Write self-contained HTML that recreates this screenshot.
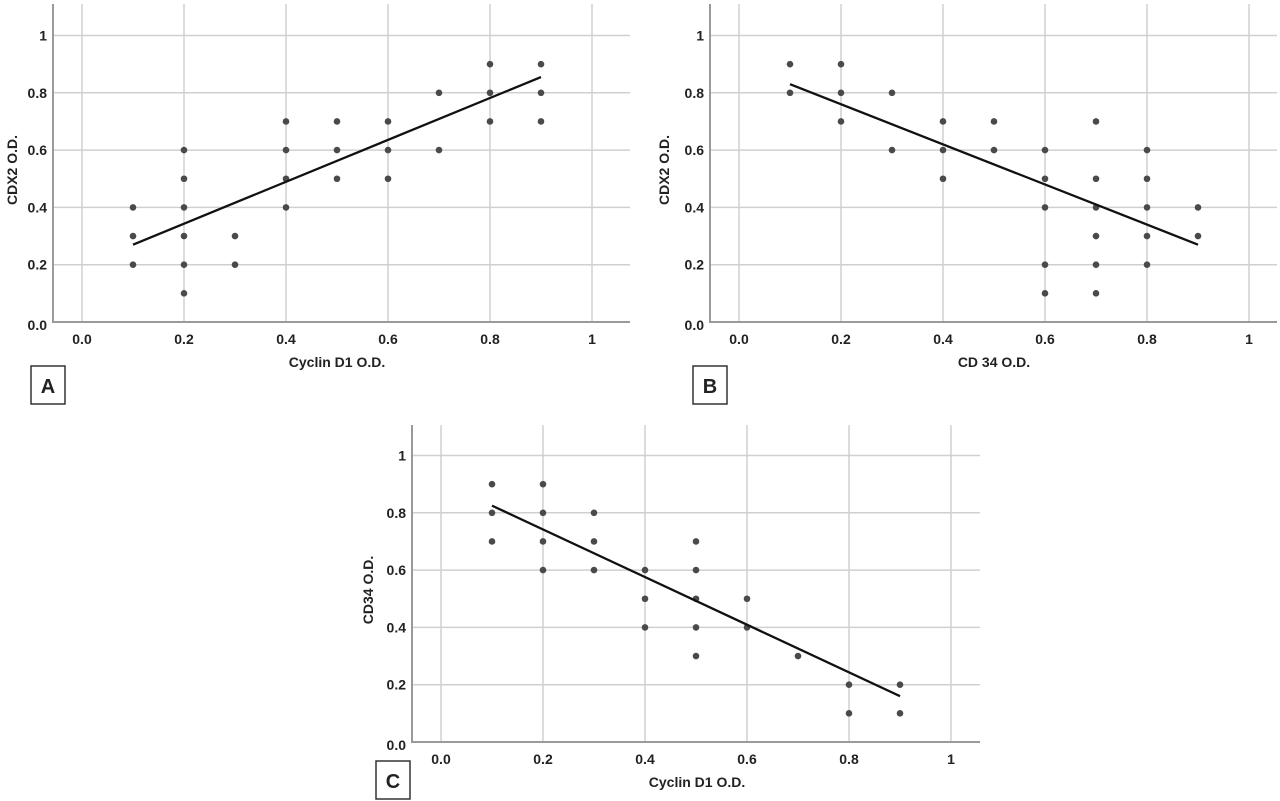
<!DOCTYPE html>
<html><head><meta charset="utf-8">
<style>
html,body{margin:0;padding:0;background:#fff;}
svg{display:block;}
text{font-family:"Liberation Sans",sans-serif;font-weight:bold;fill:#222;}
</style></head>
<body>
<svg id="fig" width="1280" height="801" viewBox="0 0 1280 801" xmlns="http://www.w3.org/2000/svg"></svg>
<script>
// Panel A data: Cyclin D1 vs CDX2
const aX = [0.1,0.1,0.1,0.2,0.2,0.2,0.2,0.2,0.2,0.3,0.3,0.4,0.4,0.4,0.4,0.5,0.5,0.5,0.6,0.6,0.6,0.7,0.7,0.8,0.8,0.8,0.9,0.9,0.9];
const aY = [0.4,0.3,0.2,0.6,0.5,0.4,0.3,0.2,0.1,0.3,0.2,0.7,0.6,0.5,0.4,0.7,0.6,0.5,0.7,0.6,0.5,0.8,0.6,0.9,0.8,0.7,0.9,0.8,0.7];
const aFitX = [0.1,0.9];
const aFitY = [0.27,0.855];
// Panel B data: CD34 vs CDX2
const bX = [0.1,0.1,0.2,0.2,0.2,0.3,0.3,0.4,0.4,0.4,0.5,0.5,0.6,0.6,0.6,0.6,0.6,0.7,0.7,0.7,0.7,0.7,0.7,0.8,0.8,0.8,0.8,0.8,0.9,0.9];
const bY = [0.9,0.8,0.9,0.8,0.7,0.8,0.6,0.7,0.6,0.5,0.7,0.6,0.6,0.5,0.4,0.2,0.1,0.7,0.5,0.4,0.3,0.2,0.1,0.6,0.5,0.4,0.3,0.2,0.4,0.3];
const bFitX = [0.1,0.9];
const bFitY = [0.83,0.27];
// Panel C data: Cyclin D1 vs CD34
const cX = [0.1,0.1,0.1,0.2,0.2,0.2,0.2,0.3,0.3,0.3,0.4,0.4,0.4,0.5,0.5,0.5,0.5,0.5,0.6,0.6,0.7,0.8,0.8,0.9,0.9];
const cY = [0.9,0.8,0.7,0.9,0.8,0.7,0.6,0.8,0.7,0.6,0.6,0.5,0.4,0.7,0.6,0.5,0.4,0.3,0.5,0.4,0.3,0.2,0.1,0.2,0.1];
const cFitX = [0.1,0.9];
const cFitY = [0.825,0.16];
const xTicks = [0,0.2,0.4,0.6,0.8,1];
const xTickLabels = ["0.0","0.2","0.4","0.6","0.8","1"];
const yTicks = [0,0.2,0.4,0.6,0.8,1];
const yTickLabels = ["0.0","0.2","0.4","0.6","0.8","1"];

const NS="http://www.w3.org/2000/svg";
const svg=document.getElementById('fig');
function mk(tag,attrs,parent){const e=document.createElementNS(NS,tag);for(const k in attrs)e.setAttribute(k,attrs[k]);(parent||svg).appendChild(e);return e;}

function panel(p){
  const g=mk('g',{});
  
  
  const sx=v=>p.x0+v*510, sy=v=>p.y0-v*286.5;
  // vertical grid
  xTicks.forEach((t,i)=>{
    const l=mk('line',{x1:sx(t),x2:sx(t),y1:p.top,y2:p.y0,stroke:'#d0d0d0','stroke-width':1.5},g);
    
    
    const tx=mk('text',{x:sx(t),y:p.y0+22,'text-anchor':'middle','font-size':14},g);
    tx.textContent=xTickLabels[i];
    
    
  });
  yTicks.forEach((t,i)=>{
    if(t>0){
      const l=mk('line',{x1:p.axisX,x2:p.right,y1:sy(t),y2:sy(t),stroke:'#d0d0d0','stroke-width':1.5},g);
      
      
    }
    const tx=mk('text',{x:p.axisX-6,y:sy(t)+5+(t===0?3:0),'text-anchor':'end','font-size':14},g);
    tx.textContent=yTickLabels[i];
    
    
  });
  // axes
  const ax=mk('polyline',{points:`${p.axisX},${p.top} ${p.axisX},${p.y0} ${p.right},${p.y0}`,fill:'none',stroke:'#9a9a9a','stroke-width':2},g);
  
  
  // points
  p.xs.forEach((v,i)=>{
    const c=mk('circle',{cx:sx(v),cy:sy(p.ys[i]),r:3.3,fill:'#4a4a4a'},g);
    
    
  });
  const fl=mk('line',{x1:sx(p.fx[0]),y1:sy(p.fy[0]),x2:sx(p.fx[1]),y2:sy(p.fy[1]),stroke:'#111','stroke-width':2.3},g);
  
  
  // titles
  const xt=mk('text',{x:p.xTitleX,y:p.y0+45,'text-anchor':'middle','font-size':14},g);
  xt.textContent=p.xTitle;
  
  
  const yt=mk('text',{x:0,y:0,'text-anchor':'middle','font-size':14,transform:`translate(${p.yTitleX},${p.yTitleY}) rotate(-90)`},g);
  yt.textContent=p.yTitle;
  
  
  // label box
  const r=mk('rect',{x:p.bx,y:p.by,width:34,height:38,fill:'#fff',stroke:'#333','stroke-width':1.5},g);
  
  
  const lt=mk('text',{x:p.bx+17,y:p.by+27,'text-anchor':'middle','font-size':20},g);
  lt.textContent=p.label;
  
  
}

panel({name:'panel-a',x0:82,y0:322,axisX:53,top:4,right:630,xs:aX,ys:aY,fx:aFitX,fy:aFitY,
  xTitle:'Cyclin D1 O.D.',xTitleX:337,yTitle:'CDX2  O.D.',yTitleX:17,yTitleY:170,bx:31,by:366,label:'A'});
panel({name:'panel-b',x0:739,y0:322,axisX:710,top:4,right:1277,xs:bX,ys:bY,fx:bFitX,fy:bFitY,
  xTitle:'CD 34  O.D.',xTitleX:994,yTitle:'CDX2  O.D.',yTitleX:669,yTitleY:170,bx:693,by:366,label:'B'});
panel({name:'panel-c',x0:441,y0:742,axisX:412,top:425,right:980,xs:cX,ys:cY,fx:cFitX,fy:cFitY,
  xTitle:'Cyclin D1 O.D.',xTitleX:697,yTitle:'CD34  O.D.',yTitleX:373,yTitleY:590,bx:376,by:761,label:'C'});
</script>
</body></html>
